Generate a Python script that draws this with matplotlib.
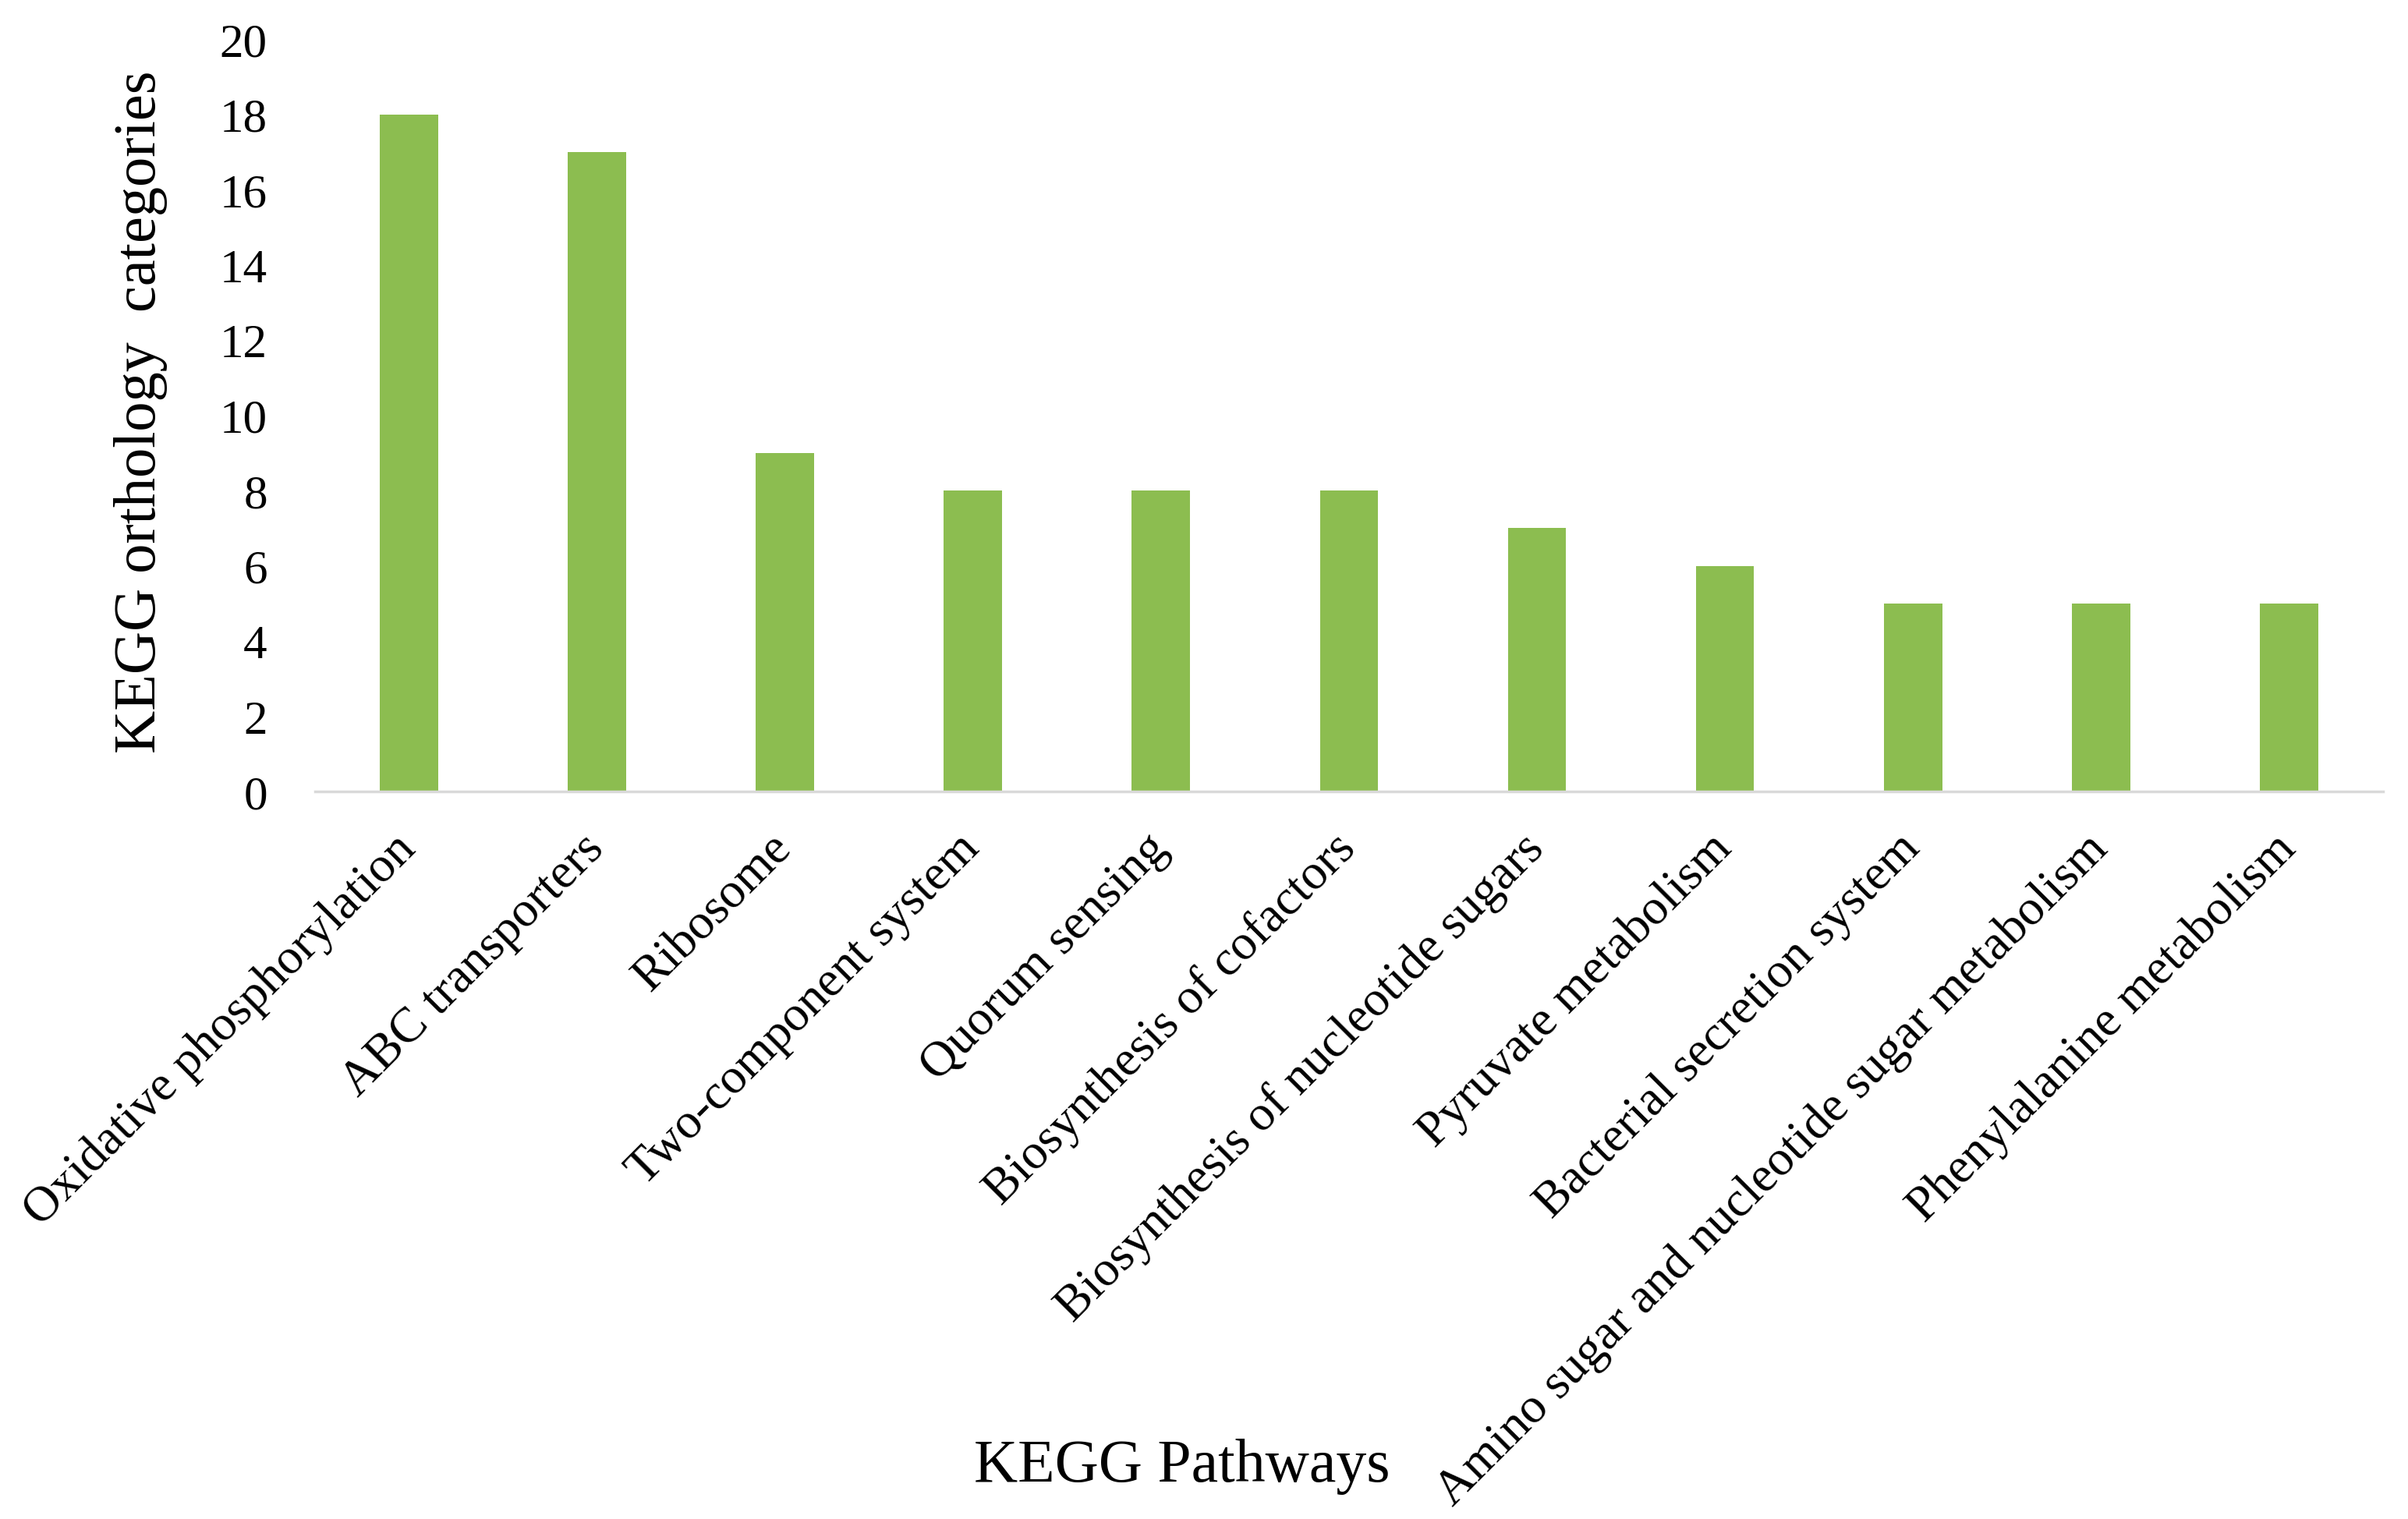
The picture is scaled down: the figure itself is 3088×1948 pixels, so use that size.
import matplotlib
matplotlib.use('Agg')
import matplotlib.pyplot as plt
import numpy as np

pathways = ['Oxidative phosphorylation', 'ABC transporters', 'Ribosome',
            'Two-component system', 'Quorum sensing', 'Biosynthesis of cofactors',
            'Biosynthesis of nucleotide sugars', 'Pyruvate metabolism',
            'Bacterial secretion system', 'Amino sugar and nucleotide sugar metabolism',
            'Phenylalanine metabolism']
counts = [18, 17, 9, 8, 8, 8, 7, 6, 5, 5, 5]
yticks = list(range(0, 21, 2))

plt.rcParams['font.family'] = ['Liberation Serif', 'DejaVu Serif']

fig = plt.figure(figsize=(30.88, 19.49), dpi=100)
ax = fig.add_axes([0.1308, 0.4787, 0.8588, 0.4951])

x = np.arange(len(pathways))
ax.bar(x, counts, width=0.31, color='#8CBD50', zorder=2)

ax.set_xlim(-0.5, len(pathways) - 0.5)
ax.set_ylim(0, 20)
ax.set_yticks(yticks)
ax.set_yticklabels([str(t) for t in yticks], fontsize=44)
ax.set_xticks(x)
ax.set_xticklabels(pathways, rotation=45, ha='right', va='center',
                   rotation_mode='anchor', fontsize=46)
ax.tick_params(axis='both', length=0)
ax.tick_params(axis='x', pad=46)
ax.tick_params(axis='y', pad=44)

for s in ['top', 'right', 'left']:
    ax.spines[s].set_visible(False)
ax.spines['bottom'].set_color('#D9D9D9')
ax.spines['bottom'].set_linewidth(2.5)

fig.text(0.0586, 0.729, 'KEGG orthology  categories', rotation=90,
         ha='center', va='center', fontsize=55)
fig.text(0.491, 0.035, 'KEGG Pathways', ha='center', va='center', fontsize=56)

fig.savefig('out.png', dpi=100)
